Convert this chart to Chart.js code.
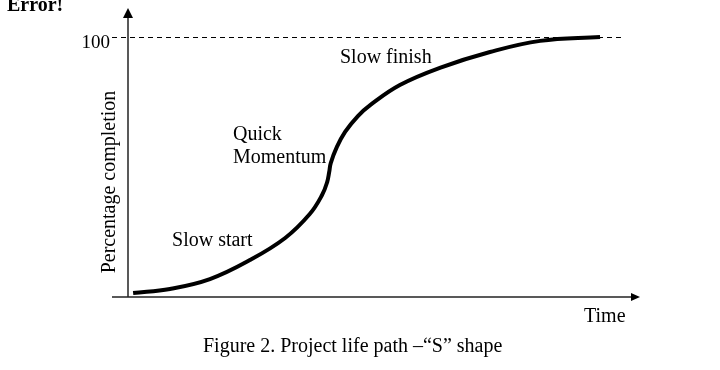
<!DOCTYPE html>
<html>
<head>
<meta charset="utf-8">
<title>Project life path - S shape</title>
<script src="https://cdn.jsdelivr.net/npm/chart.js@4.4.1/dist/chart.umd.min.js"></script>
<style>
    html, body { margin: 0; padding: 0; background: #fff; }
    #wrap { width: 720px; height: 370px; }
</style>
</head>
<body>
<div id="wrap"><canvas id="sCurve" width="720" height="370"></canvas></div>
<script>
// valores: tempo (0..100 ao longo do eixo) e % concluída
const timePoints = [1, 8.2, 16, 23.8, 30.7, 35.5, 37.9, 38.9, 39.3, 39.6, 40.8, 42.4, 44.9, 47.3, 53.1, 60.9, 70.7, 80.5, 92.2];
const completion = [1.5, 3.1, 6.9, 14.2, 22.7, 31.9, 39.2, 44.2, 48.1, 51.5, 57.7, 63.5, 69.6, 73.8, 81.5, 88.1, 94.2, 98.5, 100];
const yTicks = [100];
const phaseLabels = ["Slow start", "Quick\nMomentum", "Slow finish"];
const axisTitles = { x: "Time", y: "Percentage completion" };
const caption = "Figure 2. Project life path \u2013\u201cS\u201d shape";

const serif = '"Liberation Serif", "Times New Roman", serif';

// eixos com setas, linha tracejada dos 100 e os textos
const sketchPlugin = {
    id: "sketch",
    beforeDatasetsDraw(chart) {
        const { ctx, chartArea, scales } = chart;
        const x0 = scales.x.getPixelForValue(0);
        const y0 = scales.y.getPixelForValue(0);

        ctx.save();
        ctx.strokeStyle = "#222";
        ctx.fillStyle = "#000";
        ctx.lineWidth = 1.5;

        // eixo y
        ctx.beginPath();
        ctx.moveTo(x0, y0);
        ctx.lineTo(x0, chartArea.top + 6);
        ctx.stroke();
        ctx.beginPath();
        ctx.moveTo(x0, chartArea.top - 4);
        ctx.lineTo(x0 - 5, chartArea.top + 6);
        ctx.lineTo(x0 + 5, chartArea.top + 6);
        ctx.closePath();
        ctx.fill();

        // eixo x
        ctx.beginPath();
        ctx.moveTo(x0 - 16, y0);
        ctx.lineTo(chartArea.right - 8, y0);
        ctx.stroke();
        ctx.beginPath();
        ctx.moveTo(chartArea.right, y0);
        ctx.lineTo(chartArea.right - 9, y0 - 4);
        ctx.lineTo(chartArea.right - 9, y0 + 4);
        ctx.closePath();
        ctx.fill();

        // linha tracejada + rótulo
        ctx.lineWidth = 1;
        ctx.strokeStyle = "#000";
        ctx.setLineDash([5, 4]);
        yTicks.forEach(v => {
            const py = Math.round(scales.y.getPixelForValue(v)) + 0.5;
            ctx.beginPath();
            ctx.moveTo(x0 - 16, py);
            ctx.lineTo(scales.x.getPixelForValue(97), py);
            ctx.stroke();
            ctx.font = "19px " + serif;
            ctx.textAlign = "right";
            ctx.textBaseline = "alphabetic";
            ctx.fillText(String(v), x0 - 18, py + 10);
        });
        ctx.setLineDash([]);
        ctx.restore();
    },
    afterDraw(chart) {
        const { ctx, scales } = chart;
        const px = v => scales.x.getPixelForValue(v);
        const py = v => scales.y.getPixelForValue(v);

        ctx.save();
        ctx.fillStyle = "#000";
        ctx.textAlign = "left";
        ctx.textBaseline = "alphabetic";
        ctx.font = "20px " + serif;

        // rótulos das fases
        const spots = [[8.6, 19.6], [20.5, 60.4], [41.4, 90]];
        phaseLabels.forEach((txt, i) => {
            txt.split("\n").forEach((line, j) => {
                ctx.fillText(line, px(spots[i][0]), py(spots[i][1]) + j * 23);
            });
        });

        ctx.fillText(axisTitles.x, 584, 322);
        ctx.fillText(caption, 203, 352);

        ctx.save();
        ctx.translate(115, 182);
        ctx.rotate(-Math.PI / 2);
        ctx.textAlign = "center";
        ctx.fillText(axisTitles.y, 0, 0);
        ctx.restore();

        ctx.font = "bold 20px " + serif;
        ctx.fillText("Error!", 7, 11);
        ctx.restore();
    }
};

new Chart(document.getElementById("sCurve").getContext("2d"), {
    type: "line",
    data: {
        datasets: [
            {
                data: timePoints.map((t, i) => ({ x: t, y: completion[i] })),
                borderColor: "#000",
                borderWidth: 4,
                pointRadius: 0,
                tension: 0.4,
                fill: false,
            },
        ],
    },
    options: {
        responsive: false,
        animation: false,
        devicePixelRatio: 1,
        layout: { padding: { left: 128, right: 80, top: 12, bottom: 73 } },
        plugins: {
            legend: { display: false },
            tooltip: { enabled: false },
        },
        scales: {
            x: { type: "linear", min: 0, max: 100, display: false },
            y: { min: 0, max: 109.6, display: false },
        },
    },
    plugins: [sketchPlugin],
});
</script>
</body>
</html>
